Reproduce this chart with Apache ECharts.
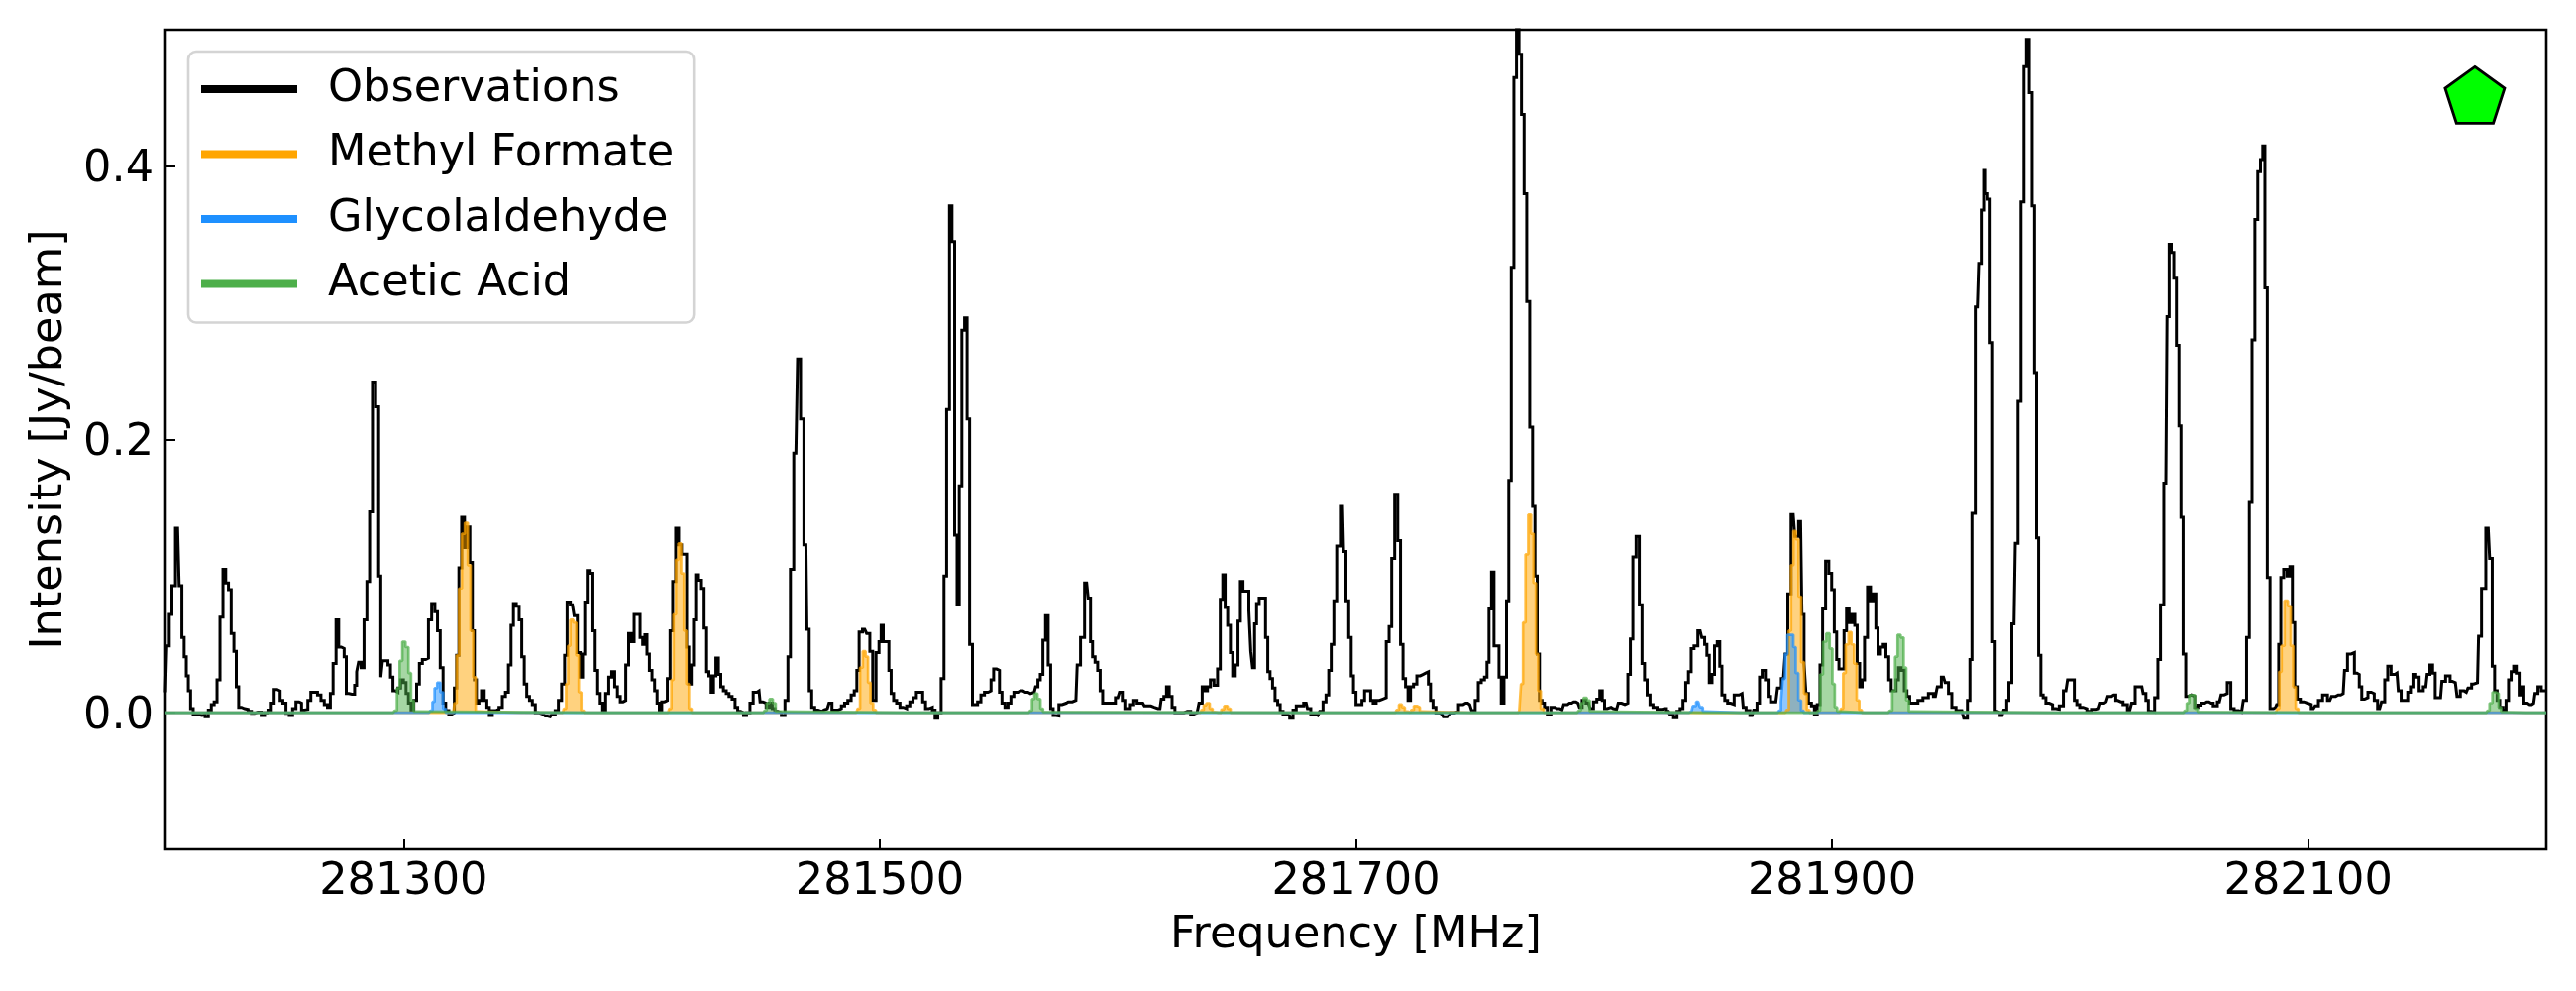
<!DOCTYPE html>
<html>
<head>
<meta charset="utf-8">
<style>html,body{margin:0;padding:0;background:#fff}#chart{width:2600px;height:1000px}</style>
<script src="https://cdn.jsdelivr.net/npm/echarts@6/dist/echarts.min.js"></script>
</head>
<body>
<div id="chart"></div>
<script>
// Every pair: [MHz above baseFrequency, intensity in mJy/beam]
const baseFrequency = 281200;
const observations = [[0,15],[1.1,49],[2.1,72],[3.3,93],[5.1,135],[6.4,93],[7.4,55],[8.3,41],[9.2,27],[10,16],[11.1,3],[12.2,-1],[13.5,-1.5],[14.7,-2],[16,-1.5],[17.3,-3],[18.7,2],[19.8,6],[21.1,8],[22.2,24],[23.6,70],[24.7,105],[25.9,95],[27,90],[28.2,58],[29.3,45],[30.2,19],[31.3,4],[32.6,3],[34,2.5],[35.4,1],[36.8,-0.5],[38.1,0.5],[39.5,0.5],[40.9,-2],[42.3,0],[43.8,2],[45.1,7],[46.2,17],[47.6,16],[48.7,9],[49.9,7],[51.3,-0.5],[52.7,-2],[54.1,3],[55.5,8],[56.6,7],[57.7,2],[59.1,2.5],[60.5,9],[61.6,15],[63.1,15],[64.6,13],[66,9],[67.4,6],[68.7,4],[69.8,14],[71,36],[72.3,68],[73.2,48],[74.5,47],[75.6,41],[76.3,14],[77.7,13.5],[78.9,13.5],[80,20],[80.6,30],[81.6,37],[82.8,33],[84,68],[85.2,96],[86.3,147],[87.6,242],[89,224],[90.1,100],[90.8,26],[91.5,38],[92.9,38],[94,35],[95,26],[96.1,16],[97.1,15],[98.2,18],[99.3,24],[100.6,22],[101.5,14],[102.6,7],[103.7,1.5],[104.9,9],[106.1,21],[107.2,36],[108.6,39],[109.9,40],[111,68],[112.6,80],[113.7,74],[114.8,60],[116,33],[117.2,7],[118.2,1.5],[119.8,-1],[120.9,0],[121.8,18],[122.8,42],[123.7,106],[125.1,143],[126.1,121],[127.3,136],[128.4,110],[129.4,60],[130.1,24],[131.1,7],[132.2,9],[133.3,16],[134.5,9],[135.5,4],[136.6,-2],[138,1.5],[139.4,2.5],[140.8,4],[142.2,12],[143.4,15],[144.7,35],[145.6,64],[146.7,80],[148,78],[149.1,68],[150.2,41],[151.2,21],[152.3,12],[153.5,9],[154.7,6],[156,0],[157.4,-1],[159.5,-2.4],[161.6,-3],[163,-1],[164.4,1.5],[165.7,9],[167.1,21],[168.2,42],[169.2,81],[170.9,79],[172.4,71],[173.6,44],[174.8,26],[175.6,43],[176.6,81],[177.7,104],[179.1,102],[180,60],[181,31],[182.1,14],[183.1,7],[184.2,1.5],[185.6,14],[186.8,26],[188.1,30],[189.3,19],[190.4,12],[191.7,8],[192.8,9],[193.9,35],[195.2,58],[196.3,52],[197.4,72],[198.8,72],[199.9,55],[201,50],[201.8,57],[202.7,43],[203.8,31],[204.9,24],[206,16],[207,7],[207.9,2],[209,8],[210.2,9],[211.4,25],[212.5,60],[213.6,96],[215,135],[216.1,123],[217.4,116],[218.5,116],[219.3,48],[220.3,21],[221.4,35],[222.2,68],[223.2,101],[224.6,97],[225.7,91],[226.8,62],[227.8,30],[228.7,27],[229.7,15],[230.7,27],[231.7,40],[232.8,28],[233.7,19],[235,16],[236.1,14],[237.3,12],[238.7,10],[239.8,4],[240.9,1],[242.3,0],[243.3,-2],[244.8,0],[246.2,7],[247.5,15],[249.3,16],[250.2,8],[251.6,7],[253,4],[254.3,7],[255.4,3],[256.5,1],[257.9,0],[259.5,-2],[260.9,9],[262,41],[263,105],[264.8,190],[266.2,259],[267.3,215],[269,123],[269.9,61],[270.9,16],[272,4],[273.4,2],[274.9,1],[276.6,2],[278,3],[279.4,7],[280.5,2],[281.9,2],[283.2,3],[284.6,5],[285.9,7],[287.3,9],[288.7,13],[289.9,16],[290.9,31],[291.8,59],[293.7,61],[295.3,58],[296.4,45],[297.7,9],[299.2,44],[300.2,52],[301,64],[302,52],[303.4,52],[304.3,31],[305.3,14],[306.4,9],[307.8,7],[309.2,4],[310.6,3],[312,5],[313.3,8],[314.7,11],[316.1,15],[317.5,15],[318.6,8],[319.9,3],[321.4,4],[322.8,2],[323.7,-4],[325.1,0],[326.5,25],[327.5,100],[328.7,222],[329.9,371],[330.8,345],[332.1,130],[332.9,79],[333.9,166],[335.1,280],[336.2,289],[337.2,215],[338.3,50],[339.6,6],[340.4,6],[341.8,8],[343.2,13],[344.8,15],[346.2,16],[347.3,24],[348.4,32],[349.8,31],[350.8,15],[351.9,7],[353.3,4],[354.5,7],[355.7,12],[357,15],[359.1,16],[361.2,15],[363.3,14],[364.9,15],[366,19],[366.9,24],[368,28],[369.1,53],[370.2,71],[371.3,35],[372.3,3],[373.4,-2],[374.7,-2.4],[375.8,6],[377.4,7],[379.2,8],[380.9,8],[382.4,9],[383.5,35],[385.2,55],[386.9,95],[388.2,84],[388.9,52],[389.9,41],[391,37],[392.1,31],[393.1,16],[394.2,7],[395.9,7],[398,7],[400,11],[401.4,15],[402.4,9],[403.5,3],[404.6,3],[406,6],[407.4,9],[408.8,7],[410.5,7],[411.8,5],[413.2,5],[414.6,4],[416,3],[417.7,3],[418.8,10],[419.9,12],[421,19],[422.2,12],[423.4,4],[424.6,0],[426.4,0],[429.2,1],[432,-1],[433.3,0],[434.9,7],[436,19],[437.1,16],[438.2,19],[439.6,24],[441.2,20],[442.6,32],[443.5,83],[444.7,101],[445.5,77],[446.8,64],[447.8,44],[448.7,27],[450,35],[451,67],[452,96],[453.2,89],[454.6,89],[455.5,75],[456.2,45],[457,33],[457.9,65],[458.7,80],[460.1,84],[461.5,84],[462.6,55],[463.4,30],[464.5,25],[465.5,18],[466.6,9],[467.7,6],[468.7,1],[470.1,-1],[471.5,-2.4],[472.9,-4],[474.3,2],[475.6,5],[477,5],[479.1,7],[480.2,3],[481.9,-1],[484,-2],[485.6,1],[486.8,8],[488.1,13],[489.1,31],[490.2,50],[491.3,82],[492.6,122],[494.4,151],[495.3,118],[496.4,82],[497.6,55],[498.5,27],[499.5,15],[500.6,6],[502,6],[503.1,9],[504.2,16],[505.7,16],[506.7,9],[507.8,7],[509.2,9],[510.6,10],[512.1,11],[513.4,52],[514.5,63],[515.6,113],[517,160],[518.2,126],[519.3,50],[520.3,25],[521.4,19],[522.4,9],[523.5,19],[524.9,21],[526.3,27],[527.7,28],[528.6,29],[530,30],[530.9,21],[531.8,9],[533,4],[534.2,0],[536,-1],[537.4,-3],[539.2,-2],[540.8,0],[542.2,1],[544,6],[546.1,7],[547.8,6],[549.4,1.5],[550.8,9],[552,22],[553.3,24],[554.7,26],[555.4,37],[556.4,76],[557.5,103],[558.5,49],[559.7,49],[560.5,26],[561.6,7],[562.8,26],[563.7,82],[564.7,170],[565.8,326],[566.9,465],[568,505],[569,482],[570.1,438],[571.2,380],[572.3,301],[573.7,209],[574.7,151],[575.7,100],[576.6,43],[577.6,9],[578.7,7],[579.7,4],[581.1,-1],[582.7,4],[584.5,3],[586.6,2],[588,6],[589.7,7],[591.5,8],[593.3,7],[594.5,4],[595.6,9],[597.7,7],[599.1,3],[600.5,8],[601.9,10],[603,16],[604,9],[604.9,3],[606.3,4],[608.1,3],[609.5,2.5],[610.9,7],[612.3,6],[613.7,7],[614.8,28],[615.8,54],[616.9,114],[618.5,129],[619.6,79],[620.8,36],[621.7,24],[623,13],[624.1,6],[625.5,4],[627.5,2.5],[629.6,3],[631.3,1],[632.7,-1.5],[634.2,-3.6],[635.6,1],[636.8,3],[638,9],[639.1,22],[640.3,30],[641.4,47],[642.7,49],[644.6,60],[646,55],[647,50],[647.9,42],[649,22],[650.2,28],[651.1,49],[652.5,52],[653.2,34],[654.3,13],[655.6,9],[656.7,7],[658.1,6],[659.7,13],[662.2,14],[663.2,4],[664.6,1.5],[666.4,-2],[667.8,2],[669.2,7],[669.9,26],[671.4,31],[672.6,24],[673.7,12],[674.7,8],[676.4,8],[677.8,18],[679.6,25],[681,43],[681.9,87],[683.7,145],[685.1,129],[686.8,140],[687.9,72],[688.6,36],[689.5,14],[690.7,7],[692,5],[693.2,-1],[694.4,6],[695.5,35],[696.6,76],[698,111],[699.3,102],[700.4,90],[701.5,59],[702.4,39],[703.4,32],[704.5,32],[705.6,60],[706.6,76],[707.7,66],[709,72],[710.1,64],[711,36],[712.2,19],[713.1,24],[714.2,55],[715.6,92],[716.7,82],[718,87],[718.8,62],[719.8,43],[720.9,48],[722.1,50],[723.2,41],[724.4,24],[725.3,16],[726.4,16],[727.4,24],[728.4,33],[729.8,31],[730.9,16],[732,12],[733.2,7],[735,7],[737.1,9],[739.2,11],[741.7,14],[743.4,12],[745,19],[746.8,26],[748.2,22],[749.6,14],[751,4],[753.1,1.5],[754.5,1.5],[756.1,-4],[757.6,9],[758.2,39],[759.3,146],[761,297],[762.1,329],[763.2,368],[764.1,397],[764.9,380],[765.9,376],[766.9,271],[768,52],[769,1],[769.7,0],[771.4,-2],[772.8,2],[773.9,9],[774.6,22],[776.4,65],[777.5,124],[778.7,228],[780,374],[781.2,473],[782.1,493],[783.5,454],[784.5,371],[785.5,249],[786.3,128],[787.2,42],[788.2,13],[789.1,11],[790.5,7],[791.9,6],[793.3,3],[794.7,2.5],[796.1,5],[798.2,16],[799.6,24],[801.2,24],[802.3,9],[803.3,6],[804.7,4],[806.1,3],[807.9,1],[810,2.5],[812,3],[813.4,7],[815.1,8],[816.5,12],[818.3,13],[820,9],[821.3,8],[823.1,6],[825,1.5],[826.6,7],[828,19],[830.1,19],[831.2,14],[832.4,9],[833.3,1],[834.7,0.5],[836.3,11],[837.4,39],[838.5,79],[840.2,168],[841.2,290],[842,343],[843,337],[844.1,318],[845.2,269],[846.2,210],[846.9,143],[848,43],[849.1,12],[850.2,13],[851.6,12],[853,4],[854.3,5.5],[855.7,7],[857.4,8],[859.2,7],[861,5],[862.7,8],[864.1,13],[865.2,14],[866.8,22],[868.2,3],[869.6,1.5],[872,0.5],[873.5,9],[874.7,55],[875.8,154],[877,273],[878.2,361],[879.4,396],[880.5,405],[881.3,415],[882.3,311],[883.3,99],[884.6,3],[886.3,4],[887.2,6],[888,50],[889,99],[890.4,105],[891.8,100],[892.8,107],[893.9,66],[894.8,19],[896,10],[897.4,8],[899,7],[900.4,6],[902.2,3],[903.6,5],[905,9],[907.1,13],[909.1,9],[910.5,12],[912.6,13],[914.7,14],[915.8,31],[917.2,43],[918.8,44],[920,29],[920.9,28],[922,19],[923,10],[924.4,11],[925.8,15],[927.2,14],[928.3,9],[930,3],[931.6,8],[932.7,24],[934.1,34],[935.5,28],[937.3,29],[938.4,16],[939.7,9],[941.2,9],[942.4,15],[943.5,19],[944.5,28],[945.9,26],[947.3,16],[949.4,19],[950.5,28],[951.7,35],[952.8,29],[953.9,11],[955.6,11],[956.7,23],[958.7,27],[960.5,23],[961.8,22],[963.2,12],[964.6,16],[966.4,15],[967.8,18],[969.5,21],[971.1,22],[972,56],[973.6,91],[975.6,135],[976.8,113],[977.8,34],[978.8,16],[979.9,9],[981,4],[982.6,2],[983.6,9],[984.7,24],[985.8,30],[986.8,34],[988,29],[989.2,13],[990,19],[991.2,7],[993,6],[994.7,7],[995.8,14],[997.2,19],[998.6,16],[1000,16]];
const methylFormate = [[0,0],[120.9,0],[121.8,7],[122.8,42],[123.9,91],[125.1,131],[126.4,139],[127.6,108],[128.7,60],[129.8,26],[130.8,1],[132,0],[166.9,0],[167.8,3],[168.8,21],[169.5,49],[170.6,68],[172,66],[173.1,42],[174.1,15],[175.2,1.5],[176.3,0],[211.1,0],[212.1,3],[212.9,24],[213.9,72],[214.9,112],[216,124],[217.2,102],[218.3,60],[219.3,21],[220.4,3],[221.5,0],[290.2,0],[291.2,3],[292.3,33],[293.5,45],[294.6,41],[295.6,22],[296.7,7],[297.8,2],[299,0],[434.7,0],[435.7,2],[436.5,5.5],[437.9,7],[439.3,3],[440.3,0.5],[441.5,0],[443,0],[444,2.4],[445.4,5],[446.8,3],[447.9,0],[516.6,0],[517.5,2],[518.7,6],[520,4],[521.1,1],[522.8,0],[523.8,2],[524.9,5],[526.3,4],[527.4,1],[528.4,0],[568.3,0],[569,2],[569.7,21],[570.7,66],[571.8,116],[573,145],[574.1,131],[575.1,95],[576.1,43],[577,16],[578.3,3],[579.5,0],[680.4,0],[681.4,2],[682.3,60],[683.3,108],[684.3,133],[685.4,127],[686.5,85],[687.6,37],[688.9,14],[690,2],[691,0],[703.3,0],[704.2,3],[705.2,29],[706.3,50],[707.6,59],[708.7,50],[709.8,36],[710.9,9],[712,2],[713,0],[886.4,0],[887.4,3],[888.3,30],[889.3,49],[890.8,82],[892.1,78],[893.2,49],[894.2,19],[895.3,3],[896.4,0],[1000,0]];
const glycolaldehyde = [[0,0],[110.7,0],[111.7,1.5],[112.6,8],[113.5,18],[114.8,22],[116.1,15],[117.2,3],[118.3,0],[640,0],[641,1],[642.1,5],[643.8,8],[645.2,4],[646.3,1],[647.4,0],[677.2,0],[678.2,1.5],[678.9,8],[679.8,25],[680.7,43],[681.8,57],[683.2,57],[684.3,48],[685.2,29],[686.5,9],[687.5,1.5],[688.6,0],[1000,0]];
const aceticAcid = [[0,0],[95.7,0],[96.7,1.5],[97.8,18],[98.9,38],[100.1,52],[101.5,48],[102.6,29],[103.7,9],[104.9,1],[106,0],[251.2,0],[252,1.5],[253,7],[254.4,10],[255.8,7],[256.8,1],[258,0],[362.6,0],[363.6,1.5],[364.4,10],[365.6,14],[366.9,10],[368.1,3],[369.1,0.5],[370,0],[593,0],[594,1.5],[595,7],[596.3,11],[597.7,9],[598.8,1],[600,0],[693.7,0],[694.5,1.5],[695.5,28],[696.9,52],[698.3,58],[699.7,47],[700.6,21],[701.7,4],[702.6,1],[704,0],[723.7,0],[724.6,1.5],[726,16],[727,41],[728.1,57],[729.5,55],[730.6,33],[731.7,9],[732.8,1],[734,0],[847.7,0],[848.5,1.5],[849.5,7],[850.5,13],[851.9,13],[853,3],[854.1,0.5],[855,0],[974.9,0],[975.7,1.5],[976.7,7],[978.1,15],[979.4,14],[980.6,4],[981.5,0.5],[983,0],[1000,0]];
const sourceMarker = [[282170, 0.45]];
const xTickValues = [281300, 281500, 281700, 281900, 282100];
const yTickValues = [0, 0.2, 0.4];

const toXY = pts => pts.map(([off, mJy]) => [baseFrequency + off, mJy / 1000]);
const FONT = '"DejaVu Sans"';
const COL = {obs:'#000000', mf:'#FFA500', ga:'#1E90FF', aa:'#4DAF4A'};

function species(name, data, color) {
  return {
    name, type:'line', step:'middle', data:toXY(data), showSymbol:false, symbol:'none',
    sampling:false, smooth:false, z:3, animation:false,
    itemStyle:{color},
    lineStyle:{color, width:2.7, opacity:0.72},
    areaStyle:{color, opacity:0.5, origin:0}
  };
}
function legendItem(name, color){
  return {name, icon:'rect', itemStyle:{color, opacity:1, borderWidth:0}, lineStyle:{opacity:0}};
}

const chart = echarts.init(document.getElementById('chart'), null, {renderer:'canvas', width:2600, height:1000});
chart.setOption({
  animation:false,
  backgroundColor:'#ffffff',
  textStyle:{fontFamily:FONT},
  grid:{left:167, right:30, top:30, bottom:143, show:true, borderColor:'#000', borderWidth:2.6, backgroundColor:'transparent', containLabel:false},
  legend:{
    show:true, left:190, top:52, orient:'vertical', align:'left',
    padding:[13,20,14,13], itemWidth:97, itemHeight:8, itemGap:15.5,
    backgroundColor:'rgba(255,255,255,0.8)', borderColor:'#d4d4d4', borderWidth:2.6, borderRadius:8,
    textStyle:{fontFamily:FONT, fontSize:44.6, color:'#000', padding:[0,0,0,26], lineHeight:50},
    data:[legendItem('Observations',COL.obs),legendItem('Methyl Formate',COL.mf),legendItem('Glycolaldehyde',COL.ga),legendItem('Acetic Acid',COL.aa)]
  },
  tooltip:{show:false},
  xAxis:{
    type:'value', min:281200, max:282200, scale:true,
    name:'Frequency [MHz]', nameLocation:'middle', nameGap:65,
    nameTextStyle:{fontFamily:FONT, fontSize:44.6, color:'#000'},
    axisLine:{show:false, onZero:false},
    axisTick:{show:true, inside:true, length:10, lineStyle:{color:'#000', width:2}, customValues:xTickValues},
    axisLabel:{show:true, margin:11, fontFamily:FONT, fontSize:44.6, color:'#000', customValues:xTickValues, formatter:v=>String(v), hideOverlap:false},
    splitLine:{show:false}
  },
  yAxis:{
    type:'value', min:-0.1, max:0.5,
    name:'Intensity [Jy/beam]', nameLocation:'middle', nameGap:87, nameRotate:90,
    nameTextStyle:{fontFamily:FONT, fontSize:44.6, color:'#000'},
    axisLine:{show:false, onZero:false},
    axisTick:{show:true, inside:true, length:10, lineStyle:{color:'#000', width:2}, customValues:yTickValues},
    axisLabel:{show:true, margin:12, verticalAlign:'top', lineHeight:8, fontFamily:FONT, fontSize:44.6, color:'#000', customValues:yTickValues, formatter:v=>Number(v).toFixed(1)},
    splitLine:{show:false}
  },
  series:[
    {name:'Observations', type:'line', step:'middle', data:toXY(observations), showSymbol:false, symbol:'none', sampling:false, z:2, animation:false,
     itemStyle:{color:COL.obs}, lineStyle:{color:COL.obs, width:3, join:'miter'}},
    species('Methyl Formate', methylFormate, COL.mf),
    species('Glycolaldehyde', glycolaldehyde, COL.ga),
    species('Acetic Acid', aceticAcid, COL.aa),
    {name:'Source', type:'scatter', data:sourceMarker, z:5, animation:false,
     symbol:'path://M50 0 L100 38 L81 100 L19 100 L0 38 Z', symbolSize:[60,57], symbolOffset:[0,-3],
     itemStyle:{color:'#00FF00', borderColor:'#000', borderWidth:2.8, opacity:1}, silent:true}
  ]
});
</script>
</body>
</html>
